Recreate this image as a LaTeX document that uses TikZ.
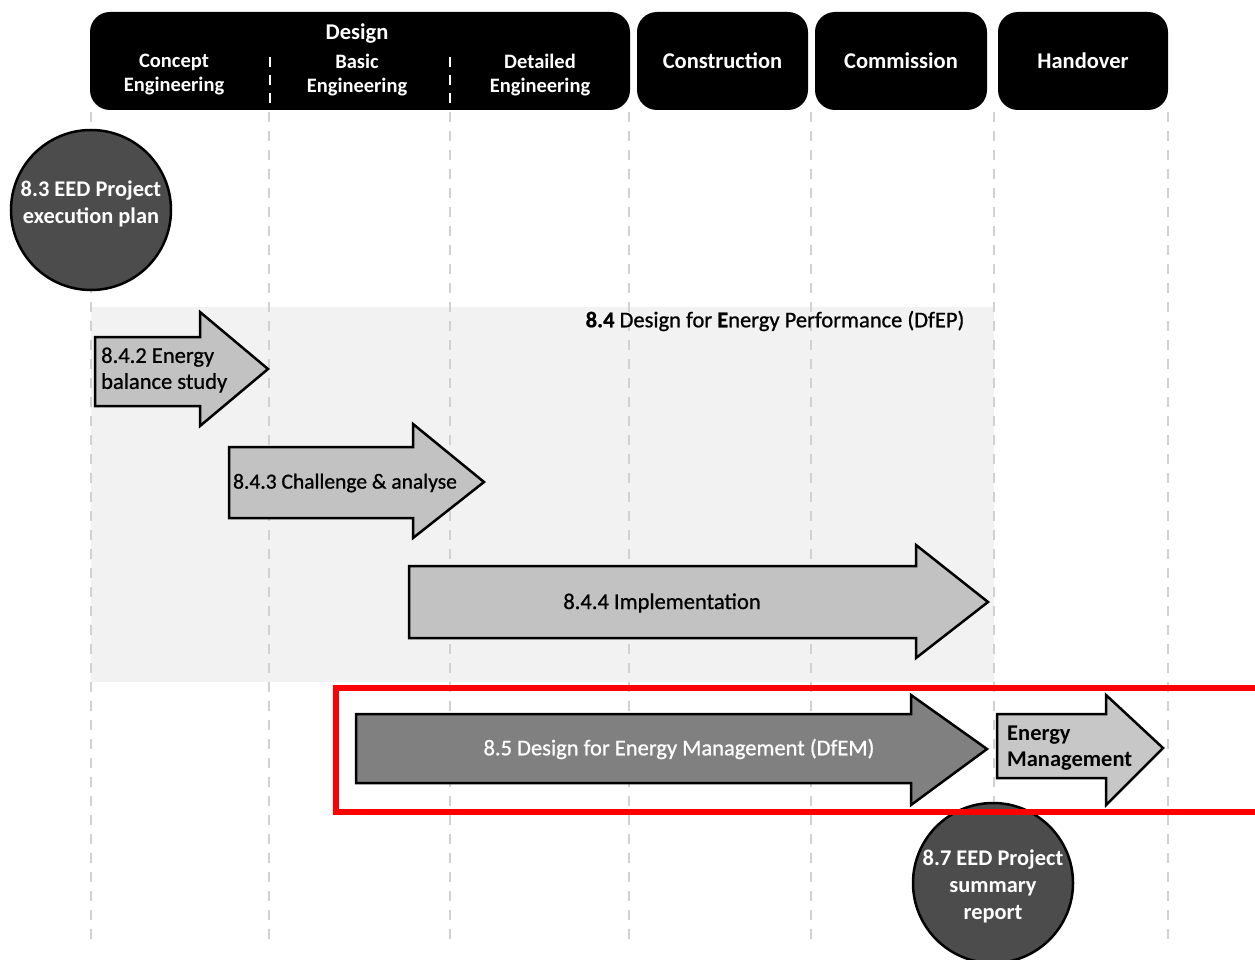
\documentclass[tikz,border=0pt]{standalone}
\usepackage{fontspec}
\setmainfont{Carlito}
\newfontfamily\mediumfont{Carlito}[FakeBold=0.8]
\begin{document}
\begin{tikzpicture}[x=1pt,y=-1pt,
  phasebox/.style={fill=black, rounded corners=20pt, minimum height=98pt, inner sep=0pt},
  phasetext/.style={text=white, font=\bfseries\fontsize{22.5}{24}\selectfont, align=center},
  subtext/.style={text=white, font=\bfseries\fontsize{20.5}{24}\selectfont, align=center},
  gridline/.style={draw=black!18, line width=2.5pt, dash pattern=on 10pt off 9pt},
  lightarrow/.style={draw=black, line width=2.5pt, fill=black!24, line join=miter},
  darkarrow/.style={draw=black, line width=2.5pt, fill=black!50, line join=miter},
  ball/.style={circle, draw=black, line width=2.5pt, fill=black!70, minimum size=160pt,
    inner sep=0pt},
  balltext/.style={text=white, align=center, inner sep=0pt,
    font=\bfseries\fontsize{22.4}{27}\selectfont},
  steptext/.style={font=\mediumfont\fontsize{22.5}{26}\selectfont, align=left, inner sep=0pt}
]
\useasboundingbox (0,0) rectangle (1255,960);

% shaded band of the DfEP stage
\fill[black!5] (91,307) rectangle (994,682);

% phase grid lines
\foreach \gx in {91,269,450,629,811,994,1168}
  \draw[gridline] (\gx,112) -- (\gx,948);

% phase headers
\node[phasebox, minimum width=540pt] (design) at (360,61) {};
\node[phasebox, minimum width=171pt] (construction) at (722.5,61) {};
\node[phasebox, minimum width=172pt] (commission) at (901,61) {};
\node[phasebox, minimum width=170pt] (handover) at (1083,61) {};

\node[phasetext] (designlbl) at (357,34) {Design};
\node[subtext] (concept) at (174,75) {Concept\\Engineering};
\node[subtext] (basic) at (357,75) {Basic\\Engineering};
\node[subtext] (detailed) at (540,75) {Detailed\\Engineering};
\node[phasetext] (constrlbl) at (construction) {Construction};
\node[phasetext] (commlbl) at (commission) {Commission};
\node[phasetext] (handlbl) at (handover) {Handover};

\draw[white, line width=2.5pt, dash pattern=on 10pt off 8pt] (270,57) -- (270,110);
\draw[white, line width=2.5pt, dash pattern=on 10pt off 8pt] (450,57) -- (450,110);

% project execution plan
\node[ball] (plan) at (91,210) {};
\node[balltext] (planlbl) at (91,204) {8.3 EED Project\\execution plan};

% DfEP stage label
\node[font=\mediumfont\fontsize{22.5}{24}\selectfont, inner sep=0pt] (dfep) at (775,321)
  {{\bfseries 8.4} Design for {\bfseries E}nergy Performance (DfEP)};

% DfEP steps
\draw[lightarrow] (95,337) -- (200,337) -- (200,312) -- (268,369) -- (200,426)
  -- (200,406) -- (95,406) -- cycle;
\node[steptext, anchor=west] (balance) at (101,370) {8.4.2 Energy\\balance study};

\draw[lightarrow] (229,447) -- (413,447) -- (413,424) -- (484,482) -- (413,538)
  -- (413,518) -- (229,518) -- cycle;
\node[steptext, font=\mediumfont\fontsize{21.5}{26}\selectfont] (challenge) at (345,483)
  {8.4.3 Challenge \& analyse};

\draw[lightarrow] (409,566) -- (916,566) -- (916,545) -- (988,602) -- (916,658)
  -- (916,638) -- (409,638) -- cycle;
\node[steptext] (implement) at (662,603) {8.4.4 Implementation};

% DfEM stage and energy management
\draw[darkarrow] (356,714) -- (911,714) -- (911,695) -- (987,749) -- (911,805)
  -- (911,783) -- (356,783) -- cycle;
\node[steptext, text=white] (dfem) at (679,749) {8.5 Design for Energy Management (DfEM)};

\draw[lightarrow, fill=black!22] (997,714) -- (1106,714) -- (1106,695) -- (1163,748)
  -- (1106,805) -- (1106,778) -- (997,778) -- cycle;
\node[steptext, font=\bfseries\fontsize{22.5}{26}\selectfont, anchor=west] (energymgmt)
  at (1007,748) {Energy\\Management};

% summary report
\node[ball] (summary) at (993,883) {};
\node[balltext] (summarylbl) at (993,886) {8.7 EED Project\\summary\\report};

% highlight frame
\draw[red, line width=6pt] (336,688) rectangle (1262,812);
\end{tikzpicture}
\end{document}
